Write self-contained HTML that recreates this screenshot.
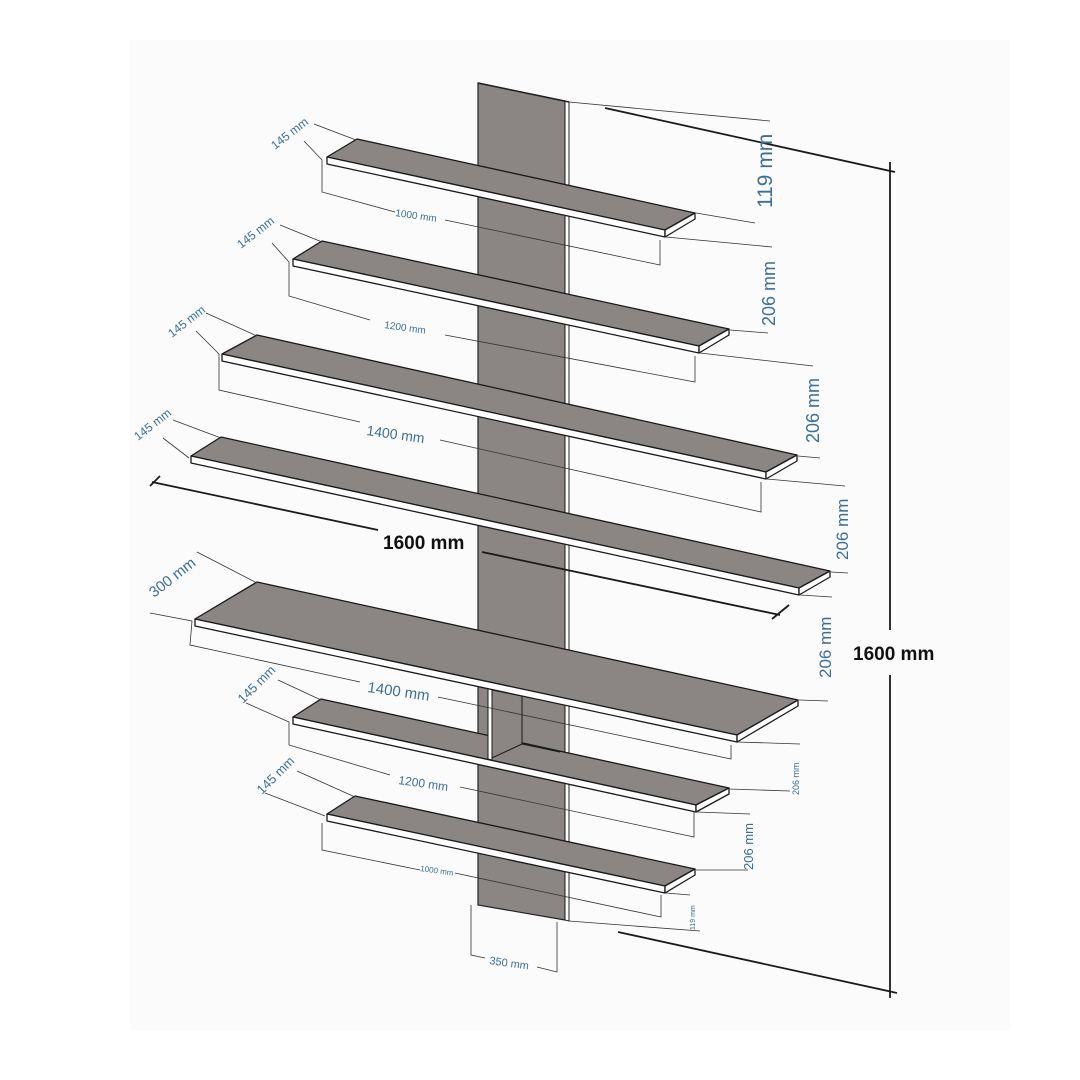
<!DOCTYPE html>
<html><head><meta charset="utf-8"><style>
html,body{margin:0;padding:0;background:#fff;}
svg{display:block;}
text{font-family:"Liberation Sans",sans-serif;fill:#3b6f96;}
</style></head><body>
<svg width="1080" height="1080" viewBox="0 0 1080 1080" xmlns="http://www.w3.org/2000/svg">
<rect x="0" y="0" width="1080" height="1080" fill="#fff"/>
<rect x="130" y="40" width="880" height="990" fill="#fbfbfb"/>

<!-- panel -->
<polygon points="478,83 565,101 565,920 478,905" fill="#8b8684" stroke="#222" stroke-width="1.2"/>
<polygon points="565,101 569,102 569,921 565,920" fill="#fff" stroke="#222" stroke-width="1"/>
<line x1="478" y1="83" x2="569" y2="102" stroke="#222" stroke-width="1.5"/>

<g stroke="#1a1a1a" stroke-width="1.3" stroke-linejoin="round">
<!-- shelf 1 -->
<polygon points="357,139 695,213 665,230 327,157" fill="#8b8684"/>
<polygon points="327,157 665,230 665,237 327,164" fill="#fff"/>
<polygon points="665,230 695,213 695,219 665,237" fill="#fff"/>
<!-- shelf 2 -->
<polygon points="322,241 729,329 699,346 293,259" fill="#8b8684"/>
<polygon points="293,259 699,346 699,353 293,266" fill="#fff"/>
<polygon points="699,346 729,329 729,335 699,353" fill="#fff"/>
<!-- shelf 3 -->
<polygon points="257,335 797,455 766,472 222,354" fill="#8b8684"/>
<polygon points="222,354 766,472 766,479 222,361" fill="#fff"/>
<polygon points="766,472 797,455 797,461 766,479" fill="#fff"/>
<!-- shelf 4 -->
<polygon points="221,437 830,571 799,588 191,456" fill="#8b8684"/>
<polygon points="191,456 799,588 799,595 191,463" fill="#fff"/>
<polygon points="799,588 830,571 830,577 799,595" fill="#fff"/>
<!-- shelf 6 -->
<polygon points="321,699 729,788 696,805 293,717" fill="#8b8684"/>
<polygon points="293,717 696,805 696,812 293,724" fill="#fff"/>
<polygon points="696,805 729,788 729,794 696,812" fill="#fff"/>
</g>
<!-- inner connector under shelf 5 -->
<polygon points="492,690 522,696 522,744 492,758" fill="#8b8684" stroke="#1a1a1a" stroke-width="1"/>
<polygon points="488,688 492,689 492,760 488,759" fill="#fff" stroke="#1a1a1a" stroke-width="1"/>
<line x1="522" y1="744" x2="560" y2="752" stroke="#1a1a1a" stroke-width="1"/>
<g stroke="#1a1a1a" stroke-width="1.3" stroke-linejoin="round">
<!-- shelf 5 -->
<polygon points="257,582 798,700 737,735 195,619" fill="#8b8684"/>
<polygon points="195,619 737,735 737,742 195,626" fill="#fff"/>
<polygon points="737,735 798,700 798,706 737,742" fill="#fff"/>
<!-- shelf 7 -->
<polygon points="355,796 695,869 665,886 327,814" fill="#8b8684"/>
<polygon points="327,814 665,886 665,893 327,821" fill="#fff"/>
<polygon points="665,886 695,869 695,875 665,893" fill="#fff"/>
</g>

<!-- dimension lines -->
<g stroke="#333" stroke-width="0.8" fill="none">
<polyline points="314,124 356,140"/><polyline points="304,141 322,160 322,192 395,212"/>
<polyline points="445,220 660,265 660,240"/>
<polyline points="280,225 322,242"/><polyline points="272,243 289,262 289,296 370,320"/>
<polyline points="445,335 695,382 695,356"/>
<polyline points="206,313 257,336"/><polyline points="196,331 219,354 219,390 360,422"/>
<polyline points="440,440 761,512 761,482"/>
<polyline points="173,420 221,438"/><polyline points="163,438 189,458"/>
<polyline points="197,552 257,583"/><polyline points="150,613 192,621 190,645 360,682"/>
<polyline points="438,697 731,759 731,745"/>
<polyline points="278,680 321,700"/><polyline points="246,703 289,722 289,745 390,775"/>
<polyline points="460,787 694,837 694,812"/>
<polyline points="297,771 355,797"/><polyline points="265,793 325,816"/>
<polyline points="322,823 322,850 420,870"/><polyline points="455,873 661,917 661,895"/>
<polyline points="471,905 471,955 485,958"/><polyline points="537,967 557,972 557,922"/>
<polyline points="569,102 770,121"/><polyline points="696,213 755,223"/>
<polyline points="666,237 772,247"/><polyline points="730,330 768,333"/>
<polyline points="700,353 813,366"/><polyline points="798,456 820,458"/>
<polyline points="767,479 845,486"/><polyline points="831,572 848,573"/>
<polyline points="800,595 832,597"/><polyline points="799,700 828,701"/>
<polyline points="738,742 800,744"/><polyline points="729,789 790,791"/>
<polyline points="697,812 750,814"/><polyline points="696,870 748,870"/>
<polyline points="666,893 690,895"/><polyline points="569,921 700,931"/>
</g>
<g stroke="#1a1a1a" stroke-width="1.8" fill="none">
<line x1="605" y1="108" x2="895" y2="172"/>
<line x1="618" y1="932" x2="897" y2="993"/>
<line x1="890" y1="162" x2="890" y2="630"/>
<line x1="890" y1="675" x2="890" y2="998"/>
<line x1="152" y1="482" x2="378" y2="530"/>
<line x1="482" y1="552" x2="780" y2="615"/>
<line x1="150" y1="486" x2="160" y2="476"/>
<line x1="772" y1="619" x2="789" y2="605"/>
</g>

<text x="383" y="549" font-size="19" font-weight="bold" style="fill:#111">1600 mm</text>
<text x="853" y="660" font-size="19" font-weight="bold" style="fill:#111">1600 mm</text>

<text transform="translate(772,208) rotate(-90)" font-size="21">119 mm</text>
<text transform="translate(775,326) rotate(-90)" font-size="18">206 mm</text>
<text transform="translate(819,443) rotate(-90)" font-size="18">206 mm</text>
<text transform="translate(848,560) rotate(-90)" font-size="17">206 mm</text>
<text transform="translate(831,678) rotate(-90)" font-size="17">206 mm</text>
<text transform="translate(799,795) rotate(-90)" font-size="9">206 mm</text>
<text transform="translate(753,870) rotate(-90)" font-size="13">206 mm</text>
<text transform="translate(695,930) rotate(-90)" font-size="7">119 mm</text>

<text transform="translate(275,150) rotate(-38)" font-size="12">145 mm</text>
<text transform="translate(241,249) rotate(-38)" font-size="12">145 mm</text>
<text transform="translate(172,338) rotate(-38)" font-size="12">145 mm</text>
<text transform="translate(138,441) rotate(-38)" font-size="12">145 mm</text>
<text transform="translate(154,598) rotate(-38)" font-size="15">300 mm</text>
<text transform="translate(243,704) rotate(-45)" font-size="13">145 mm</text>
<text transform="translate(262,795) rotate(-45)" font-size="13">145 mm</text>

<text transform="translate(395,216) rotate(8)" font-size="10">1000 mm</text>
<text transform="translate(384,328) rotate(8)" font-size="10">1200 mm</text>
<text transform="translate(366,435) rotate(8)" font-size="14">1400 mm</text>
<text transform="translate(367,692) rotate(8)" font-size="15">1400 mm</text>
<text transform="translate(398,784) rotate(8)" font-size="12">1200 mm</text>
<text transform="translate(420,871) rotate(8)" font-size="8">1000 mm</text>
<text transform="translate(489,964) rotate(8)" font-size="11">350 mm</text>
</svg>
</body></html>
